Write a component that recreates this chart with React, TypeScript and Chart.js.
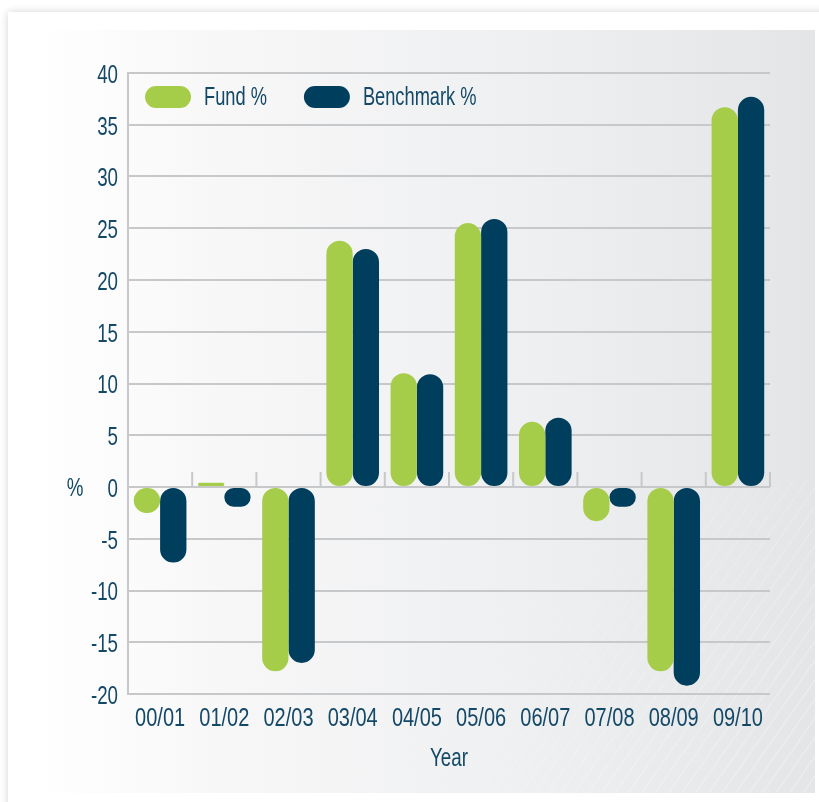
import React, { useEffect, useRef } from "react";
import { Chart, registerables } from "chart.js";

Chart.register(...registerables);

const categories = ["00/01", "01/02", "02/03", "03/04", "04/05", "05/06", "06/07", "07/08", "08/09", "09/10"];
const fundValues = [-2.5, 0.4, -17.8, 23.8, 11.0, 25.5, 6.3, -3.3, -17.8, 36.7];
const benchmarkValues = [-7.3, -1.9, -17.0, 23.0, 10.9, 25.9, 6.7, -1.9, -19.2, 37.7];
const seriesLabels = ["Fund %", "Benchmark %"];
const yTitle = "%";
const xTitle = "Year";
const yMin = -20;
const yMax = 40;
const yStep = 5;

const GREEN = "#a6cd4a";
const NAVY = "#003e5e";
const TEXT = "#134867";
const GRID = "#c7c8ca";
const FONT = "'Liberation Sans', Arial, sans-serif";

function narrowText(ctx: CanvasRenderingContext2D, text: string, x: number, y: number, align: CanvasTextAlign, sx: number) {
  ctx.save();
  ctx.translate(x, y);
  ctx.scale(sx, 1);
  ctx.textAlign = align;
  ctx.textBaseline = "middle";
  ctx.fillText(text, 0, 0);
  ctx.restore();
}

const decorPlugin = {
  id: "decor",
  beforeDatasetsDraw(chart: any) {
    const { ctx } = chart;
    const x = chart.scales.x;
    const y = chart.scales.y;
    const zero = y.getPixelForValue(0);
    const n = chart.data.labels.length;
    const w = (x.right - x.left) / n;
    ctx.save();
    ctx.strokeStyle = GRID;
    ctx.lineWidth = 2;
    for (let i = 1; i <= n; i++) {
      const px = x.left + i * w;
      ctx.beginPath();
      ctx.moveTo(px, zero - 15);
      ctx.lineTo(px, zero);
      ctx.stroke();
    }
    ctx.restore();
  },
  afterDraw(chart: any) {
    const { ctx, chartArea } = chart;
    const x = chart.scales.x;
    const y = chart.scales.y;
    ctx.save();
    ctx.font = `25px ${FONT}`;
    ctx.fillStyle = TEXT;

    // y tick labels
    y.ticks.forEach((t: any) => {
      narrowText(ctx, String(t.value), chartArea.left - 10, y.getPixelForValue(t.value) + 3, "right", 0.75);
    });
    // x tick labels
    chart.data.labels.forEach((lab: string, i: number) => {
      narrowText(ctx, lab, x.getPixelForValue(i), chartArea.bottom + 25, "center", 0.8);
    });
    // axis titles
    narrowText(ctx, xTitle, (chartArea.left + chartArea.right) / 2, chartArea.bottom + 65, "center", 0.75);
    narrowText(ctx, yTitle, 75, y.getPixelForValue(0) + 2, "center", 0.75);

    // legend inside chart area
    let lx = chartArea.left + 17;
    const ly = chartArea.top + 13;
    chart.data.datasets.forEach((ds: any) => {
      ctx.fillStyle = ds.backgroundColor;
      ctx.beginPath();
      (ctx as any).roundRect(lx, ly, 46, 22, 11);
      ctx.fill();
      ctx.fillStyle = TEXT;
      narrowText(ctx, ds.label, lx + 59, ly + 12, "left", 0.73);
      const tw = ctx.measureText(ds.label).width * 0.73;
      lx += 59 + tw + 37;
    });
    ctx.restore();
  },
};

export default function App() {
  const ref = useRef<HTMLCanvasElement | null>(null);
  useEffect(() => {
    if (!ref.current) return;
    const chart = new Chart(ref.current, {
      type: "bar",
      data: {
        labels: categories,
        datasets: [
          {
            label: seriesLabels[0],
            data: fundValues,
            backgroundColor: GREEN,
            borderRadius: 14,
            borderSkipped: false,
            barPercentage: 1,
            categoryPercentage: 0.82,
          },
          {
            label: seriesLabels[1],
            data: benchmarkValues,
            backgroundColor: NAVY,
            borderRadius: 14,
            borderSkipped: false,
            barPercentage: 1,
            categoryPercentage: 0.82,
          },
        ],
      },
      options: {
        responsive: false,
        animation: false,
        devicePixelRatio: 1,
        layout: { padding: { left: 0, right: 49, top: 73, bottom: 0 } },
        plugins: { legend: { display: false }, tooltip: { enabled: false } },
        scales: {
          x: {
            grid: { display: false, drawTicks: false },
            border: { display: false },
            ticks: { display: false },
            afterFit: (s: any) => {
              s.height = 108;
            },
          },
          y: {
            min: yMin,
            max: yMax,
            ticks: { stepSize: yStep, display: false },
            grid: { color: GRID, lineWidth: 2, drawTicks: false },
            border: { display: true, color: GRID, width: 2 },
            afterFit: (s: any) => {
              s.width = 128;
            },
          },
        },
      },
      plugins: [decorPlugin],
    });
    return () => chart.destroy();
  }, []);

  return (
    <div style={{ position: "fixed", left: 0, top: 0, width: 819, height: 802, background: "#ffffff", overflow: "hidden" }}>
      <div
        style={{
          position: "absolute",
          left: 8,
          top: 12,
          width: 830,
          height: 810,
          background: "#ffffff",
          boxShadow: "0 0 8px rgba(0,0,0,0.18)",
        }}
      />
      <div
        style={{
          position: "absolute",
          left: 30,
          top: 30,
          width: 785,
          height: 763,
          background: "linear-gradient(90deg, #ffffff 0%, #f7f7f8 25%, #eeeff0 65%, #e4e5e7 100%)",
        }}
      />
      <div
        style={{
          position: "absolute",
          left: 250,
          top: 480,
          width: 565,
          height: 313,
          background:
            "repeating-linear-gradient(-55deg, rgba(255,255,255,0) 0px, rgba(255,255,255,0) 9px, rgba(255,255,255,0.4) 10px, rgba(255,255,255,0) 11px)",
          WebkitMaskImage: "linear-gradient(135deg, transparent 30%, black 90%)",
          maskImage: "linear-gradient(135deg, transparent 30%, black 90%)",
        }}
      />
      <canvas ref={ref} width={819} height={802} style={{ position: "absolute", left: 0, top: 0 }} />
    </div>
  );
}
